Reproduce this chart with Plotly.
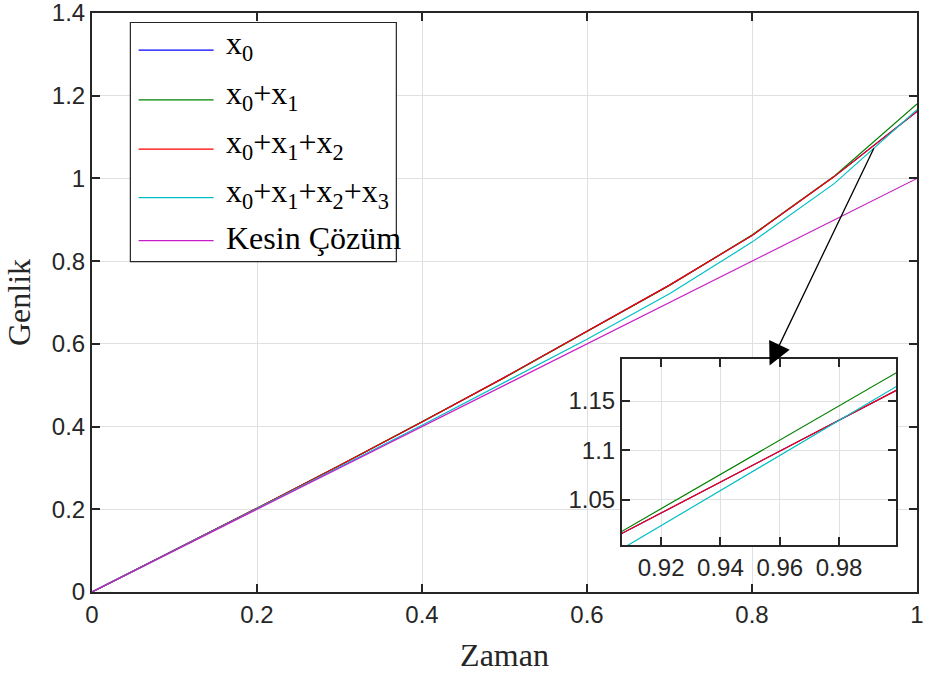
import plotly.graph_objects as go

# Time grid and the partial-sum approximations
t = [0.0, 0.1, 0.2, 0.3, 0.4, 0.5, 0.6, 0.7, 0.8, 0.9, 1.0]
x0 = [0.0, 0.1005, 0.2025, 0.306, 0.411, 0.519, 0.631, 0.742, 0.862, 1.005, 1.162]
x01 = [0.0, 0.1005, 0.2025, 0.306, 0.411, 0.518, 0.630, 0.741, 0.863, 1.006, 1.180]
x012 = [0.0, 0.1005, 0.2025, 0.306, 0.411, 0.519, 0.631, 0.742, 0.862, 1.005, 1.162]
x0123 = [0.0, 0.1, 0.2005, 0.302, 0.403, 0.506, 0.611, 0.721, 0.846, 0.988, 1.166]
exact = [0.0, 0.1, 0.2, 0.3, 0.4, 0.5, 0.6, 0.7, 0.8, 0.9, 1.0]

labels = ["x<sub>0</sub>",
          "x<sub>0</sub>+x<sub>1</sub>",
          "x<sub>0</sub>+x<sub>1</sub>+x<sub>2</sub>",
          "x<sub>0</sub>+x<sub>1</sub>+x<sub>2</sub>+x<sub>3</sub>",
          "Kesin Çözüm"]
series = [x0, x01, x012, x0123, exact]
colors = ["#0000FF", "#008000", "#FF0000", "#00BFC4", "#C81EC8"]

main_xticks = [0, 0.2, 0.4, 0.6, 0.8, 1.0]
main_yticks = [0, 0.2, 0.4, 0.6, 0.8, 1.0, 1.2, 1.4]
inset_xticks = [0.92, 0.94, 0.96, 0.98]
inset_yticks = [1.05, 1.1, 1.15]

SANS = "Liberation Sans, Arial, Helvetica, sans-serif"
SERIF = "Liberation Serif, Times New Roman, serif"
AX = "#262626"
GRID = "#e0e0e0"

fig = go.Figure()

for ys, name, c in zip(series, labels, colors):
    fig.add_trace(go.Scatter(x=t, y=ys, mode="lines", name=name,
                             line=dict(color=c, width=1.2),
                             xaxis="x", yaxis="y", showlegend=False))
# zoomed view near t = 1 (exact solution is outside this window)
for ys, name, c in zip(series[:4], labels[:4], colors[:4]):
    fig.add_trace(go.Scatter(x=t, y=ys, mode="lines", name=name,
                             line=dict(color=c, width=1.2),
                             xaxis="x2", yaxis="y2", showlegend=False))

axis_common = dict(showline=True, linecolor=AX, linewidth=2, mirror="ticks",
                   ticks="inside", ticklen=8, tickwidth=1.5, tickcolor=AX,
                   showgrid=True, gridcolor=GRID, gridwidth=1, zeroline=False,
                   automargin=False, ticklabeloverflow="allow",
                   tickfont=dict(family=SANS, size=24, color=AX))

fig.update_layout(
    width=931, height=677,
    margin=dict(l=92, r=14, t=13, b=85),
    paper_bgcolor="white", plot_bgcolor="white",
    xaxis=dict(range=[0, 1], tickvals=main_xticks, domain=[0, 1], anchor="y",
               title=dict(text="Zaman", font=dict(family=SERIF, size=32, color=AX),
                          standoff=17),
               **axis_common),
    yaxis=dict(range=[0, 1.4], tickvals=main_yticks, domain=[0, 1], anchor="x",
               title=dict(text="Genlik", font=dict(family=SERIF, size=32, color=AX),
                          standoff=12),
               **axis_common),
    xaxis2=dict(range=[0.9068, 0.9993], tickvals=inset_xticks,
                domain=[0.6424, 0.9749], anchor="y2", **axis_common),
    yaxis2=dict(range=[1.004, 1.193], tickvals=inset_yticks,
                domain=[0.0813, 0.4029], anchor="x2", **axis_common),
)

# Legend box drawn in paper coordinates
lx0, lx1, ly0, ly1 = 0.0465, 0.3689, 0.5707, 0.9836
fig.add_shape(type="rect", xref="paper", yref="paper", x0=lx0, x1=lx1, y0=ly0, y1=ly1,
              line=dict(color=AX, width=1.2), fillcolor="white", layer="above")
entry_y = [0.936, 0.850, 0.765, 0.681, 0.607]
text_y = [0.944, 0.858, 0.773, 0.689, 0.612]
for name, c, yl, yt in zip(labels, colors, entry_y, text_y):
    fig.add_shape(type="line", xref="paper", yref="paper", x0=0.0565, x1=0.1474,
                  y0=yl, y1=yl, line=dict(color=c, width=1.2), layer="above")
    fig.add_annotation(xref="paper", yref="paper", x=0.1606, y=yt, text=name,
                       showarrow=False, xanchor="left", yanchor="middle",
                       font=dict(family=SERIF, size=32, color="black"))

# Arrow pointing from the curves near t = 1 to the zoomed view
fig.add_annotation(x=0.8213, y=0.5478, ax=0.9486, ay=1.0768, xref="x", yref="y",
                   axref="x", ayref="y", text="", showarrow=True, arrowhead=2,
                   arrowsize=3.5, arrowwidth=1.3, arrowcolor="black", standoff=0)

fig.write_html("out.html")
